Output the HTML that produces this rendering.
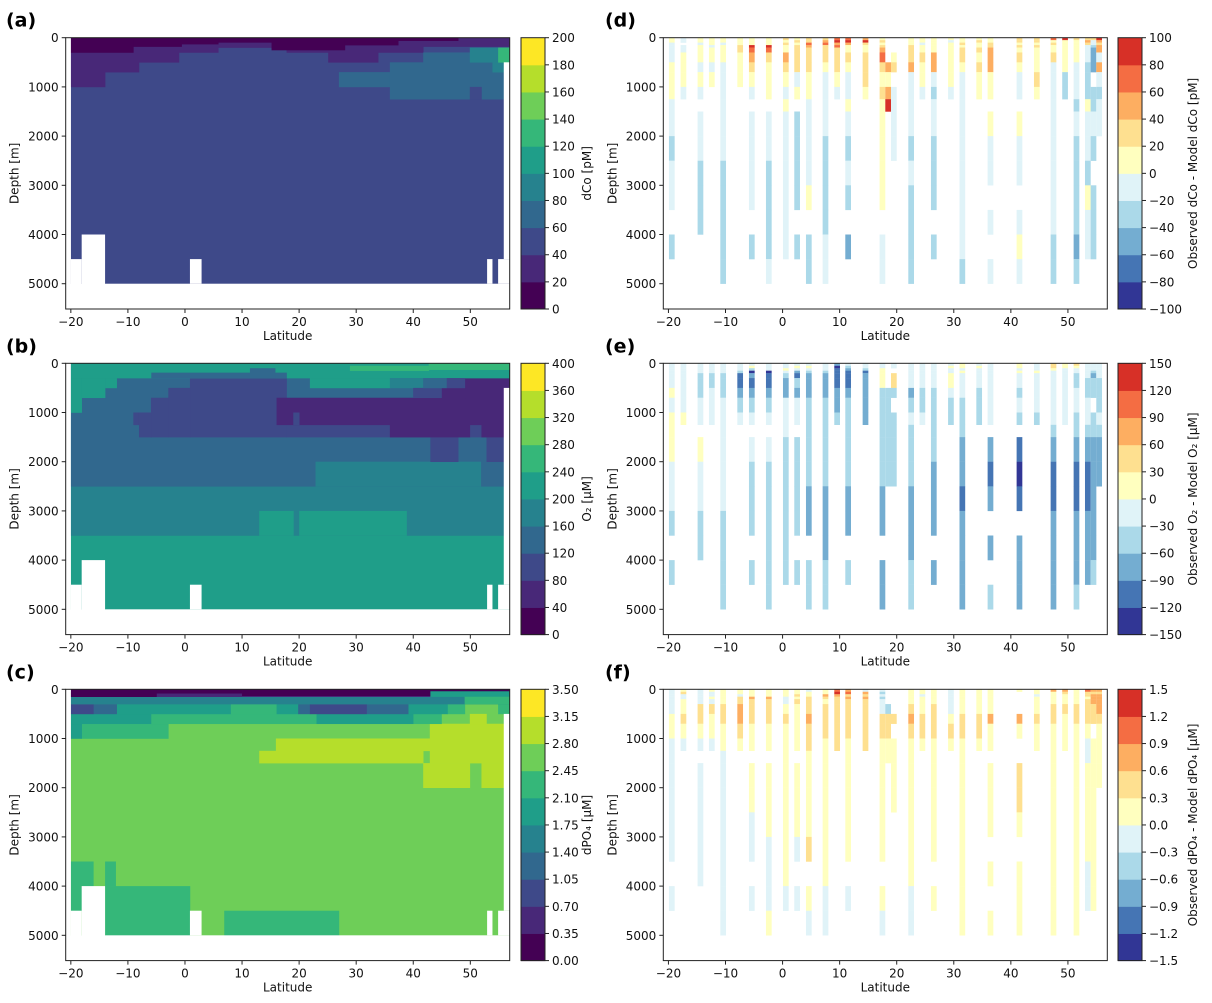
<!DOCTYPE html>
<html><head><meta charset="utf-8"><style>
html,body{margin:0;padding:0;background:#fff;}
svg{display:block;font-family:"DejaVu Sans","Liberation Sans",sans-serif;}
</style></head><body>
<svg id="fig" width="1212" height="1003" viewBox="0 0 1212 1003"></svg>
<script>
const latTicks=[-20,-10,0,10,20,30,40,50];
const depthTicks=[0,1000,2000,3000,4000,5000];
const depthEdges=[0,50,100,150,200,300,500,700,1000,1250,1500,2000,2500,3000,3500,4000,4500,5000];
const maskRects=[[-20.9,-20,0,5514],[-20,-18.1,4500,5514],[-18.1,-14,4000,5514],[-14,56.9,5000,5514],[0.87,2.91,4500,5000],[52.94,53.88,4500,5000],[54.87,56.9,4500,5000],[55.86,56.9,500,4500]];
const aRects=[[-20,56.9,0,5000,50],
[-20,-14,0,1000,30],[-14,-8.06,0,700,30],[-8.06,-1.06,0,500,30],[-1.06,5.83,0,300,30],[5.83,17.8,0,200,30],[17.8,25.1,0,300,30],[25.1,33.85,0,500,30],[33.85,41.74,0,300,30],[41.74,56.9,0,180,30],
[-20,-9.05,0,300,10],[-9.05,-0.59,0,180,10],[-0.59,5.83,0,130,10],[5.83,15.17,0,95,10],[15.17,28.02,0,250,10],[28.02,37.36,0,150,10],[37.36,47.87,0,60,10],
[26.97,35.9,700,1000,70],[35.9,56.9,500,1250,70],[49.91,51.95,1000,1250,50],[41.74,49.91,300,500,70],
[49.91,54.87,200,500,90],[53.88,55.86,500,700,90],[54.87,56.9,200,500,130]];
const bRects=[[-20,56.9,0,5000,220],[-20,56.9,0,3500,180],[13.01,19.0,3000,3500,220],[20.02,38.82,3000,3500,220],
[-20,56.9,0,2500,140],[22.88,51.83,2000,2500,180],
[0.87,17.8,300,1500,100],[-2.92,0.87,500,1500,100],[-5.96,-2.92,700,1500,100],[-9.05,-8.06,1000,1250,100],[-8.06,-5.96,1000,1500,100],[17.8,56.9,1250,1500,100],[43.0,47.87,1500,2000,100],[52.83,55.86,1500,2000,100],
[16.05,55.86,700,1250,60],[35.9,49.91,1250,1500,60],[51.95,55.86,1250,1500,60],[49.04,56.9,270,700,60],[44.95,49.04,500,700,60],
[18.97,20.02,1000,1250,100],
[-20,56.9,0,300,220],[-20,-18.1,300,1000,220],[-18.1,-14,300,700,220],[-14,-11.97,300,500,220],[-5.9,17.8,190,300,140],[11.38,15.8,100,300,140],
[21.89,35.9,300,500,220],[35.9,41.74,300,500,180],[39.98,44.95,500,700,100],[45.82,49.04,300,500,100],[41.74,45.82,300,500,140],
[42.7,56.9,0,130,260],[28.9,42.7,50,150,250]];
const cRects=[[-20,56.9,0,5000,2.6],
[15.93,42.9,1000,1250,3.0],[13.01,41.74,1250,1500,3.0],[42.9,55.86,700,1500,3.0],[41.74,49.91,1500,2000,3.0],[51.95,55.86,1500,2000,3.0],[49.91,52.83,500,700,3.0],
[-20,-16.06,3500,4500,2.3],[-14,-12.15,3500,4000,2.3],[-14,0.87,4000,5000,2.3],[6.88,26.97,4500,5000,2.3],[-18.1,-2.92,700,1000,2.3],[-5.96,23.05,500,700,2.3],[7.99,16.05,300,500,2.3],[39.98,44.95,500,700,2.3],[46.0,49.04,300,500,2.3],[54.87,56.9,300,500,2.3],
[-20,-18.1,700,1000,1.9],[-20,-5.96,500,700,1.9],[-11.97,7.99,300,500,1.9],[23.05,39.98,500,700,1.9],[39.11,46.0,300,500,1.9],[16.05,19.84,300,500,1.9],
[-16.06,-11.97,300,500,1.2],[19.84,21.89,300,500,1.2],[31.81,39.11,300,500,1.2],
[-20,-16.06,300,500,0.9],[21.89,31.81,300,500,0.9],
[-20,56.9,150,300,1.6],[-20,56.9,60,150,0.5],[-20,-5,0,150,0.2],[-5,10,0,80,0.2],[10,43,0,130,0.2],[43,56.9,0,40,0.2],[43,56.9,40,150,1.9],[49,56.9,150,300,2.3]];
const stationLats=[-19.41,-17.37,-14.39,-12.40,-10.41,-7.43,-5.39,-2.41,0.57,2.55,4.6,7.52,9.56,11.49,14.53,17.5,18.5,19.5,22.53,24.5,26.5,29.5,31.5,34.45,36.43,41.51,44.55,47.47,49.5,51.5,53.49,54.48,55.47];
const N=null;
const dValues=[
[10,10,-10,-10,-10,-10,10,10,10,-10,-10,-30,-10,-10,N,-30,N],
[-10,-10,N,-10,-10,10,10,10,-10,N,N,N,N,N,N,N,N],
[10,10,-10,10,10,10,-10,10,-10,N,-10,-10,-30,-30,-30,N,N],
[10,10,10,-10,10,10,-10,10,N,N,N,N,N,N,N,N,N],
[10,10,-10,10,10,10,-10,-10,-10,-10,-10,-10,-30,-30,-30,-30,-30],
[10,10,10,30,30,10,10,10,N,N,N,N,N,N,N,N,N],
[10,10,10,90,70,50,30,10,-10,N,-10,-10,-10,-10,N,-30,N],
[10,10,10,90,70,30,10,10,10,N,-10,-10,-30,-30,-30,-30,-10],
[30,10,30,10,10,50,30,10,-10,10,-10,-10,-10,-10,-10,-10,N],
[10,30,10,30,30,30,30,-10,10,N,-30,-30,-30,-30,N,-30,N],
[30,30,70,50,30,30,30,10,10,-10,-10,-10,-10,10,N,-30,-30],
[30,50,70,30,30,30,10,-10,-10,-10,-10,-30,-30,-30,-30,-10,-10],
[70,90,50,70,30,30,30,10,-10,N,N,N,N,N,N,N,N],
[70,90,50,10,10,30,10,-10,-10,10,-10,-30,-10,-30,N,-50,N],
[50,90,30,10,10,30,30,30,10,N,N,N,N,N,N,N,N],
[10,30,10,30,50,70,30,10,30,10,10,10,10,10,N,-10,-10],
[N,N,N,N,N,N,50,10,50,90,N,N,N,N,N,N,N],
[N,N,N,N,N,10,30,N,-10,-10,-10,-10,N,N,N,N,N],
[10,10,10,30,30,30,50,-10,-10,-10,-10,-30,-10,-30,-30,-30,-30],
[10,10,-10,10,10,30,10,10,-10,N,N,N,N,N,N,N,N],
[10,10,10,10,10,50,50,-10,-30,-10,-10,-30,-30,-30,N,-30,N],
[10,-10,10,10,10,10,10,10,-10,N,N,N,N,N,N,N,N],
[10,10,30,10,30,30,10,-10,-10,-10,-10,-10,-10,-10,-10,-10,-30],
[10,30,10,10,30,10,30,10,10,N,N,N,N,N,N,N,N],
[10,10,30,30,50,50,50,10,10,N,10,-10,-10,N,-10,N,-10],
[30,30,10,30,10,30,10,-10,-10,N,10,-10,-10,N,-10,10,-10],
[30,30,10,30,10,10,10,30,10,N,N,N,N,N,N,N,N],
[70,10,30,10,10,30,-10,-10,-10,-10,-10,-10,-10,-10,-10,-30,-30],
[90,10,10,10,10,10,10,-30,-30,N,N,N,N,N,N,N,N],
[30,10,10,10,10,10,-10,-10,-10,-30,-10,-30,-30,-30,-30,-50,-30],
[30,50,30,-10,-10,-10,-30,-30,-30,10,-10,-10,-30,10,-10,-10,N],
[30,-10,-10,-30,-50,-50,-50,N,-30,-30,-10,-30,N,-30,-30,-30,N],
[90,50,30,50,50,-10,50,-10,-30,-10,-10,N,N,N,N,N,N]];
const eValues=[
[-15,-15,-15,-15,-15,-15,15,-15,15,15,15,-15,-15,-45,N,-45,N],
[-15,-15,-15,-15,-15,-15,-15,-15,15,N,N,N,N,N,N,N,N],
[-15,-15,-15,-15,-45,-45,-45,-15,-15,N,15,-15,-15,-45,-45,N,N],
[-15,-15,-15,-15,-45,-45,-15,-15,-15,N,N,N,N,N,N,N,N],
[-15,-15,-15,-15,-45,-45,-45,-15,-15,-15,-15,-15,-15,-45,-45,-45,-45],
[-15,-15,-15,-45,-105,-105,-75,-45,-15,N,N,N,N,N,N,N,N],
[-15,15,-45,-135,-75,-105,-75,-45,-15,N,-15,-45,-45,-45,N,-45,N],
[-15,-15,-15,-135,-105,-105,-75,-45,-15,N,-15,-45,-45,-45,-45,-45,-45],
[-15,-15,15,-15,-45,-75,-75,-15,-15,-15,-45,-45,-45,-45,-45,-45,N],
[-15,15,-15,-75,-105,-45,-75,-15,-15,N,-45,-45,-45,-45,N,-45,N],
[-15,15,-15,-45,-75,-75,-75,-45,-45,-45,-45,-45,-75,-75,N,-45,-45],
[-15,-15,-15,-45,-75,-75,-75,-45,-45,-45,-45,-45,-75,-75,-75,-45,-45],
[-75,-135,-105,-105,-105,-105,-75,-75,-45,N,N,N,N,N,N,N,N],
[-15,-45,-75,-105,-105,-105,-75,-45,-45,-45,-45,-45,-75,-75,N,-45,N],
[-15,-15,-45,-105,-75,-75,-75,-75,-75,N,N,N,N,N,N,N,N],
[-15,-15,15,15,15,15,-45,-45,-45,-45,-45,-45,-75,-75,N,-75,-75],
[N,N,N,N,N,N,-45,-45,-45,-45,-45,-45,N,N,N,N,N],
[-15,-15,N,N,45,45,-45,N,-45,-45,-45,-45,N,N,N,N,N],
[-15,-15,-15,-15,-15,-15,-75,-45,-15,-45,-45,-45,-75,-75,-75,-45,-45],
[-15,-15,-15,-15,-15,-15,-45,-45,-15,N,N,N,N,N,N,N,N],
[-15,-15,-15,-15,-15,-15,-45,-45,-45,-45,-45,-75,-75,-75,N,-75,N],
[-15,15,-15,-15,15,15,-15,-45,-45,N,N,N,N,N,N,N,N],
[15,15,-15,15,-15,-15,-15,-45,-45,-45,-75,-75,-105,-75,-75,-75,-75],
[-15,15,-15,-15,-15,-15,-45,-45,-45,N,N,N,N,N,N,N,N],
[-15,-15,-15,-15,-15,-15,-15,-15,-15,N,-75,-105,-75,N,-75,N,-45],
[15,15,-15,15,-15,-15,-45,-15,-45,N,-105,-135,-105,N,-75,-75,-75],
[-15,-15,-15,15,-15,-15,-15,-15,-45,N,N,N,N,N,N,N,N],
[45,45,15,-15,-15,-15,-15,-15,-15,-45,-75,-105,-105,-75,-75,-75,-75],
[15,15,-15,-15,-15,-15,-15,-15,-15,N,N,N,N,N,N,N,N],
[45,15,-15,-15,-45,-45,-15,-15,-45,-45,-75,-105,-105,-75,-75,-75,-45],
[-15,-15,-15,-15,-15,-45,-45,-15,-15,-45,-75,-105,-105,-75,-75,-75,N],
[-15,-15,-15,-45,-75,-45,-45,N,-45,-45,-75,-75,-75,-75,-75,-45,N],
[-15,-15,-15,-15,-15,-45,-45,-45,-15,-45,-75,-75,N,N,N,N,N]];
const fValues=[
[-0.15,-0.15,-0.15,-0.15,-0.15,-0.15,0.15,0.15,-0.15,-0.15,-0.15,-0.15,-0.15,-0.15,N,-0.15,N],
[0.15,0.45,-0.15,-0.15,0.15,0.15,0.45,0.15,-0.15,N,N,N,N,N,N,N,N],
[-0.15,-0.15,-0.15,-0.15,-0.15,0.45,0.45,0.15,-0.15,N,-0.15,-0.15,-0.15,-0.15,-0.15,N,N],
[0.15,-0.15,-0.15,0.15,-0.15,0.45,0.15,0.15,-0.15,N,N,N,N,N,N,N,N],
[0.15,0.15,0.15,0.15,0.15,0.45,0.45,0.15,0.15,-0.15,-0.15,-0.15,-0.15,-0.15,-0.15,-0.15,-0.15],
[0.15,0.15,-0.15,0.45,0.45,0.75,0.75,0.45,0.15,N,N,N,N,N,N,N,N],
[0.15,0.15,0.15,0.75,0.45,0.45,0.45,0.15,0.15,N,0.15,0.15,-0.15,-0.15,N,-0.15,N],
[0.15,0.15,0.15,0.75,0.45,0.45,0.45,0.15,0.15,N,0.15,0.15,0.15,-0.15,-0.15,-0.15,0.15],
[0.15,0.15,0.15,-0.15,-0.15,0.15,0.45,0.15,0.15,0.15,0.15,0.15,0.15,0.15,0.15,-0.15,N],
[0.15,0.15,0.45,0.15,0.45,0.15,0.15,0.15,0.15,N,0.15,0.15,0.15,-0.15,N,-0.15,N],
[-0.15,0.15,0.15,0.45,0.45,0.45,0.75,0.45,0.45,0.15,0.15,0.15,0.15,0.45,N,0.15,-0.15],
[0.15,0.15,0.75,0.45,0.15,0.45,0.45,0.45,0.15,0.15,0.15,0.15,0.15,0.15,0.15,-0.15,-0.15],
[1.05,1.35,0.75,0.45,0.45,0.45,0.45,0.45,0.45,N,N,N,N,N,N,N,N],
[0.75,1.05,0.45,0.75,0.45,0.45,0.45,0.45,0.15,0.15,0.15,0.15,0.15,0.15,N,-0.15,N],
[-0.15,0.75,0.45,0.75,0.45,0.45,0.45,0.45,0.45,N,N,N,N,N,N,N,N],
[-0.15,-0.45,-0.15,-0.45,-0.15,-0.15,0.45,0.45,0.15,0.15,0.15,0.15,0.15,0.15,N,0.15,-0.15],
[N,N,N,N,N,-0.45,0.45,0.45,0.15,0.15,N,N,N,N,N,N,N],
[N,N,N,N,N,N,0.45,N,0.15,0.15,0.15,0.15,N,N,N,N,N],
[0.15,0.15,0.15,0.15,0.15,0.45,0.75,0.45,0.15,0.15,0.15,0.15,0.15,0.15,0.15,-0.15,-0.15],
[0.15,0.15,-0.15,0.15,0.15,0.15,0.45,0.45,0.15,N,N,N,N,N,N,N,N],
[0.15,0.15,0.15,0.15,0.15,0.45,0.45,0.45,0.15,0.15,0.15,0.15,0.15,0.15,N,0.15,N],
[-0.15,-0.15,-0.15,-0.15,-0.15,-0.15,0.15,0.45,0.15,N,N,N,N,N,N,N,N],
[0.15,0.15,0.15,0.15,0.15,0.15,0.45,0.45,0.15,0.15,0.15,0.15,0.15,0.15,0.15,0.15,0.15],
[0.15,0.15,0.15,0.15,0.15,0.15,0.45,0.45,0.15,N,N,N,N,N,N,N,N],
[0.15,0.15,0.15,0.15,0.15,0.15,0.75,0.15,0.15,N,0.15,0.15,0.15,N,0.15,N,0.15],
[0.15,N,N,N,N,N,0.75,0.15,N,N,0.45,0.45,0.15,N,0.15,0.15,0.15],
[0.15,0.15,-0.15,0.15,0.15,0.15,0.45,0.15,0.15,N,N,N,N,N,N,N,N],
[0.75,0.15,0.15,0.15,0.15,0.45,0.45,0.15,0.15,0.15,0.15,0.15,0.15,0.15,0.15,0.15,0.15],
[0.75,0.45,0.15,0.15,0.15,0.45,0.15,0.15,0.15,N,N,N,N,N,N,N,N],
[0.15,0.15,0.15,0.15,0.15,0.45,0.45,0.15,0.15,0.15,0.15,0.15,0.15,0.15,0.15,0.15,0.15],
[1.05,0.45,0.45,0.15,0.45,0.45,0.45,0.15,-0.15,-0.15,0.15,0.15,0.15,0.15,-0.15,-0.15,N],
[0.75,0.45,0.75,0.75,0.75,0.45,0.45,N,0.15,0.15,0.15,0.15,0.15,0.15,0.15,0.15,N],
[0.75,0.45,0.75,0.75,0.75,0.75,0.45,0.15,0.15,0.15,0.15,N,N,N,N,N,N]];
const aCbarTicks=['0','20','40','60','80','100','120','140','160','180','200'];
const bCbarTicks=['0','40','80','120','160','200','240','280','320','360','400'];
const cCbarTicks=['0.00','0.35','0.70','1.05','1.40','1.75','2.10','2.45','2.80','3.15','3.50'];
const dCbarTicks=['-100','-80','-60','-40','-20','0','20','40','60','80','100'];
const eCbarTicks=['-150','-120','-90','-60','-30','0','30','60','90','120','150'];
const fCbarTicks=['-1.5','-1.2','-0.9','-0.6','-0.3','0.0','0.3','0.6','0.9','1.2','1.5'];

const NS='http://www.w3.org/2000/svg';
const svg=document.getElementById('fig');
const VIR=['#440154','#482878','#3e4989','#31688e','#26828e','#1f9e89','#35b779','#6ece58','#b5de2b','#fde725'];
const RDB=['#313695','#4575b4','#74add1','#abd9e9','#e0f3f8','#ffffbf','#fee090','#fdae61','#f46d43','#d73027'];
const XMIN=-20.9,XMAX=56.9,W=444,H=271.3,DMAX=5514;
const TOPS=[37.7,363.3,689.3];
function mk(tag,attrs,parent){const e=document.createElementNS(NS,tag);for(const k in attrs)e.setAttribute(k,attrs[k]);(parent||svg).appendChild(e);return e;}
function xs(lat,x0){return x0+(lat-XMIN)/(XMAX-XMIN)*W;}
function ys(d,top){return top+d/DMAX*H;}
function fmt(s){return s.replace('-','\u2212');}
function cls(v,vmin,step){let c=Math.floor((v-vmin)/step+1e-9);return Math.max(0,Math.min(9,c));}

function drawAxes(x0,top,label,lx,cbx,cbLabels,cbColors,cbTitle,cbtx){
  const g=mk('g',{});
  
  
  const fr=mk('rect',{x:x0,y:top,width:W,height:H,fill:'none',stroke:'#222','stroke-width':1});
  
  
  latTicks.forEach(t=>{
    const x=xs(t,x0);
    const tk=mk('line',{x1:x,x2:x,y1:top+H,y2:top+H+4,stroke:'#222','stroke-width':1});
    
    
    const tl=mk('text',{x:x,y:top+H+17,'text-anchor':'middle','font-size':12,fill:'#111'});
    
    
    tl.textContent=fmt(String(t));
  });
  depthTicks.forEach(t=>{
    const y=ys(t,top);
    const tk=mk('line',{x1:x0-4,x2:x0,y1:y,y2:y,stroke:'#222','stroke-width':1});
    
    
    const tl=mk('text',{x:x0-7,y:y+4.5,'text-anchor':'end','font-size':12,fill:'#111'});
    
    
    tl.textContent=String(t);
  });
  const xt=mk('text',{x:x0+W/2,y:top+H+31,'text-anchor':'middle','font-size':12,fill:'#111'});
  
  
  xt.textContent='Latitude';
  const yt=mk('text',{x:0,y:0,'text-anchor':'middle','font-size':12,fill:'#111',transform:'translate('+(x0-47)+','+(top+H/2)+') rotate(-90)'});
  
  
  yt.textContent='Depth [m]';
  const pl=mk('text',{x:lx,y:top-11,'font-size':19,'font-weight':'bold',fill:'#000'});
  
  
  pl.textContent=label;
  // colorbar
  const cbw=24, sh=H/10;
  for(let i=0;i<10;i++){
    const r=mk('rect',{x:cbx,y:top+H-(i+1)*sh,width:cbw,height:sh+0.5,fill:cbColors[i]});
    
    
  }
  const cf=mk('rect',{x:cbx,y:top,width:cbw,height:H,fill:'none',stroke:'#222','stroke-width':1});
  
  
  cbLabels.forEach((s,i)=>{
    const y=top+H-i*sh;
    const tk=mk('line',{x1:cbx+cbw,x2:cbx+cbw+4,y1:y,y2:y,stroke:'#222','stroke-width':1});
    
    
    const tl=mk('text',{x:cbx+cbw+7,y:y+4.5,'font-size':12,fill:'#111'});
    
    
    tl.textContent=fmt(s);
  });
  const ct=mk('text',{x:0,y:0,'text-anchor':'middle','font-size':12,fill:'#111',transform:'translate('+cbtx+','+(top+H/2)+') rotate(-90)'});
  
  
  ct.textContent=cbTitle;
}

function drawField(rects,x0,top,step){
  rects.forEach(r=>{
    const x1=xs(r[0],x0),x2=xs(r[1],x0),y1=ys(r[2],top),y2=ys(r[3],top);
    const e=mk('rect',{x:x1,y:y1,width:x2-x1+0.3,height:y2-y1+0.3,fill:VIR[cls(r[4],0,step)]});
    
    
  });
  maskRects.forEach(r=>{
    const x1=xs(r[0],x0),x2=xs(r[1],x0),y1=ys(r[2],top),y2=ys(r[3],top);
    const e=mk('rect',{x:x1,y:y1,width:x2-x1,height:y2-y1,fill:'#fff'});
    
    
  });
}

function drawStations(vals,x0,top,vmin,step){
  vals.forEach((col,si)=>{
    const lat=stationLats[si];
    col.forEach((v,bi)=>{
      if(v===null)return;
      const x1=xs(lat-0.5,x0),x2=xs(lat+0.5,x0);
      const y1=ys(depthEdges[bi],top),y2=ys(depthEdges[bi+1],top);
      const e=mk('rect',{x:x1,y:y1,width:x2-x1,height:y2-y1+0.2,fill:RDB[cls(v,vmin,step)]});
      
      
    });
  });
}

const LX=65.7, RX=663.3, LCB=521, RCB=1118;
drawField(aRects,LX,TOPS[0],20);
drawField(bRects,LX,TOPS[1],40);
drawField(cRects,LX,TOPS[2],0.35);
drawStations(dValues,RX,TOPS[0],-100,20);
drawStations(eValues,RX,TOPS[1],-150,30);
drawStations(fValues,RX,TOPS[2],-1.5,0.3);
drawAxes(LX,TOPS[0],'(a)',6,LCB,aCbarTicks,VIR,'dCo [pM]',591);
drawAxes(LX,TOPS[1],'(b)',6,LCB,bCbarTicks,VIR,'O\u2082 [\u00b5M]',591);
drawAxes(LX,TOPS[2],'(c)',6,LCB,cCbarTicks,VIR,'dPO\u2084 [\u00b5M]',591);
drawAxes(RX,TOPS[0],'(d)',605,RCB,dCbarTicks,RDB,'Observed dCo - Model dCo [pM]',1197);
drawAxes(RX,TOPS[1],'(e)',605,RCB,eCbarTicks,RDB,'Observed O\u2082 - Model O\u2082 [\u00b5M]',1197);
drawAxes(RX,TOPS[2],'(f)',605,RCB,fCbarTicks,RDB,'Observed dPO\u2084 - Model dPO\u2084 [\u00b5M]',1197);
</script>
</body></html>
